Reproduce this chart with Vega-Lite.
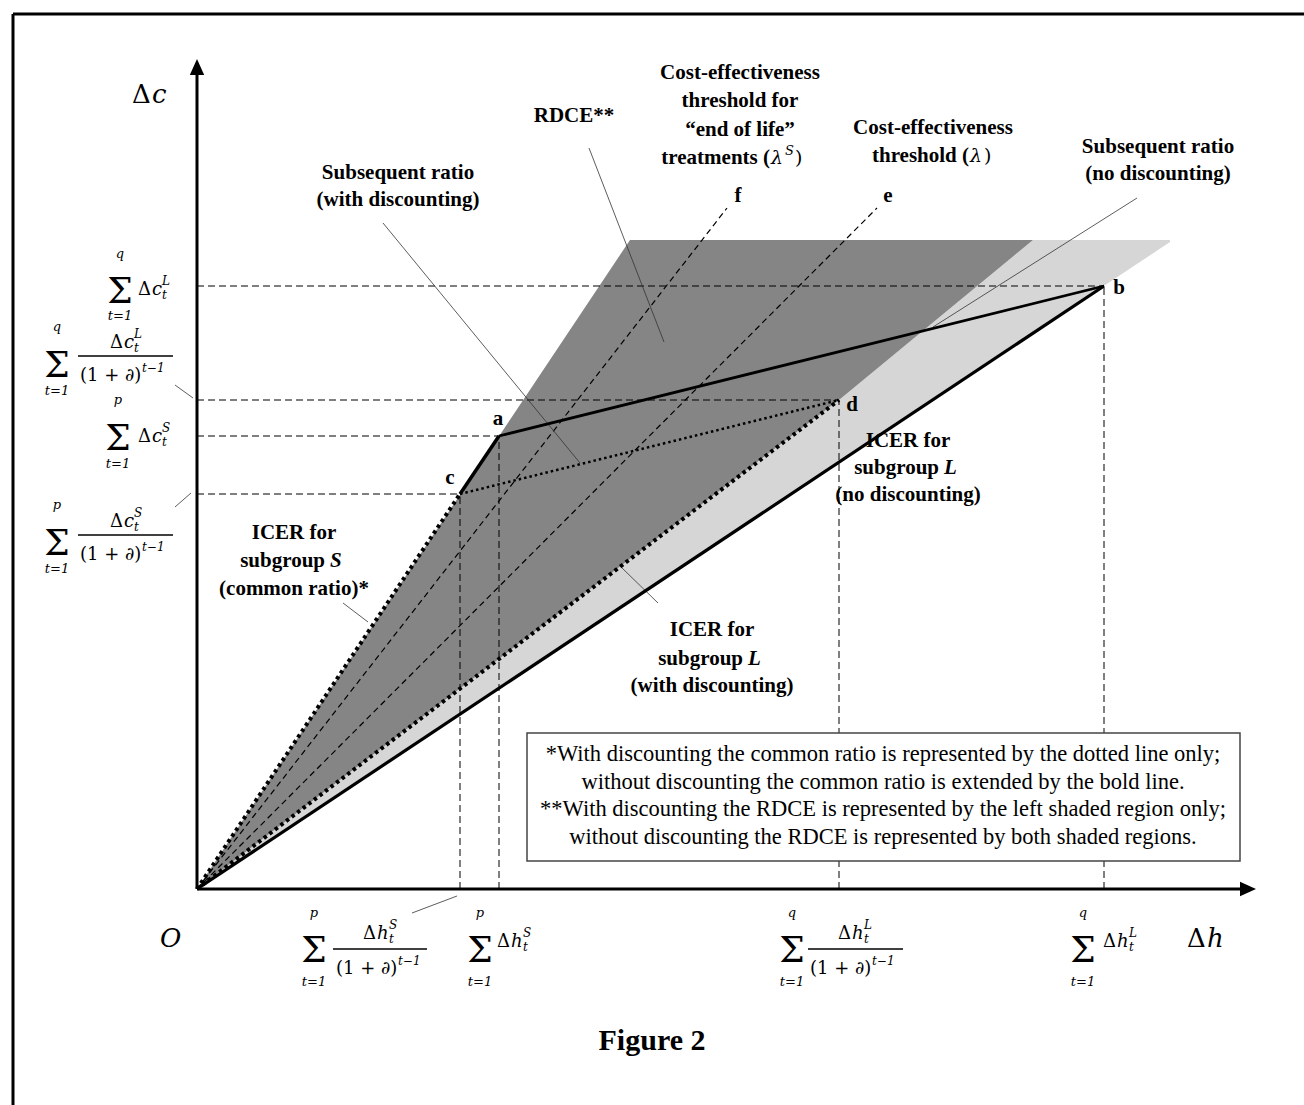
{
"$schema":"https://vega.github.io/schema/vega-lite/v6.json",
"width":1304,"height":1105,"padding":0,"autosize":{"type":"none"},
"background":"white",
"config":{"view":{"stroke":null}},
"datasets":{
"regions":[
{"r":"dark","h":0,"c":0,"c2":0},{"r":"dark","h":433,"c":649,"c2":330},{"r":"dark","h":642,"c":649,"c2":489},{"r":"dark","h":836,"c":649,"c2":649},
{"r":"light","h":0,"c":0,"c2":0},{"r":"light","h":642,"c":489,"c2":427},{"r":"light","h":836,"c":649,"c2":556},{"r":"light","h":973,"c":649,"c2":647}
],
"segs":[
{"k":"guide","h":0,"c":603,"h2":907,"c2":603},
{"k":"guide","h":0,"c":489,"h2":642,"c2":489},
{"k":"guide","h":0,"c":453,"h2":302,"c2":453},
{"k":"guide","h":0,"c":395,"h2":263,"c2":395},
{"k":"guide","h":263,"c":0,"h2":263,"c2":395},
{"k":"guide","h":302,"c":0,"h2":302,"c2":453},
{"k":"guide","h":642,"c":0,"h2":642,"c2":489},
{"k":"guide","h":907,"c":0,"h2":907,"c2":603},
{"k":"thr","h":0,"c":0,"h2":530,"c2":681},
{"k":"thr","h":0,"c":0,"h2":680,"c2":681},
{"k":"ptr","h":186,"c":666,"h2":383,"c2":426},
{"k":"ptr","h":392,"c":741,"h2":467,"c2":547},
{"k":"ptr","h":940,"c":691,"h2":736,"c2":562},
{"k":"ptr","h":423,"c":323,"h2":461,"c2":286},
{"k":"ptr","h":146,"c":286,"h2":171,"c2":267},
{"k":"ptr","h":-22,"c":504,"h2":-4,"c2":491},
{"k":"ptr","h":-22,"c":382,"h2":-6,"c2":396},
{"k":"ptr","h":215,"c":-24,"h2":260,"c2":-7},
{"k":"axis","h":0,"c":0,"h2":0,"c2":816},
{"k":"axis","h":0,"c":0,"h2":1052,"c2":0},
{"k":"frame","h":-184,"c":-216,"h2":-184,"c2":875},
{"k":"frame","h":-184,"c":875,"h2":1107,"c2":875},
{"k":"boldL","h":0,"c":0,"h2":907,"c2":603},
{"k":"boldCA","h":263,"c":395,"h2":302,"c2":453},
{"k":"boldAB","h":302,"c":453,"h2":907,"c2":603},
{"k":"dots","h":0,"c":0,"h2":642,"c2":489},
{"k":"dots","h":0,"c":0,"h2":263,"c2":395},
{"k":"dotsThin","h":263,"c":395,"h2":642,"c2":489},
{"k":"bar","h":-119,"c":533,"h2":-24,"c2":533},
{"k":"bar","h":-119,"c":354,"h2":-24,"c2":354},
{"k":"bar","h":136,"c":-60,"h2":230,"c2":-60},
{"k":"bar","h":611,"c":-60,"h2":706,"c2":-60}
],
"box":[{"h":330,"c":156,"h2":1043,"c2":28}],
"heads":[{"a":"up","h":0,"c":822},{"a":"right","h":1051,"c":0}],
"txt":[
{"s":"lab","h":201,"c":710,"t":"Subsequent ratio"},
{"s":"lab","h":201,"c":683,"t":"(with discounting)"},
{"s":"lab","h":377,"c":767,"t":"RDCE**"},
{"s":"lab","h":543,"c":810,"t":"Cost-effectiveness"},
{"s":"lab","h":543,"c":782,"t":"threshold for"},
{"s":"lab","h":543,"c":753,"t":"“end of life”"},
{"s":"lab","h":541,"c":687,"t":"f"},
{"s":"lab","h":691,"c":687,"t":"e"},
{"s":"lab","h":736,"c":755,"t":"Cost-effectiveness"},
{"s":"lab","h":961,"c":736,"t":"Subsequent ratio"},
{"s":"lab","h":961,"c":709,"t":"(no discounting)"},
{"s":"lab","h":301,"c":464,"t":"a"},
{"s":"lab","h":253,"c":405,"t":"c"},
{"s":"lab","h":922,"c":595,"t":"b"},
{"s":"lab","h":655,"c":478,"t":"d"},
{"s":"lab","h":97,"c":350,"t":"ICER for"},
{"s":"lab","h":97,"c":294,"t":"(common ratio)*"},
{"s":"lab","h":711,"c":442,"t":"ICER for"},
{"s":"lab","h":711,"c":388,"t":"(no discounting)"},
{"s":"lab","h":515,"c":253,"t":"ICER for"},
{"s":"lab","h":515,"c":197,"t":"(with discounting)"},
{"s":"labR","h":573,"c":725,"t":"treatments ("},
{"s":"labR","h":772,"c":727,"t":"threshold ("},
{"s":"labR","h":128,"c":322,"t":"subgroup"},
{"s":"labR","h":742,"c":415,"t":"subgroup"},
{"s":"labR","h":546,"c":224,"t":"subgroup"},
{"s":"labI","h":133,"c":322,"t":"S"},
{"s":"labI","h":747,"c":415,"t":"L"},
{"s":"labI","h":551,"c":224,"t":"L"},
{"s":"lamb","h":574,"c":725,"t":"λ"},
{"s":"lamb","h":773,"c":727,"t":"λ"},
{"s":"lambSup","h":588,"c":734,"t":"S"},
{"s":"paren","h":598,"c":725,"t":")"},
{"s":"paren","h":787,"c":727,"t":")"},
{"s":"note","h":686,"c":128,"t":"*With discounting the common ratio is represented by the dotted line only;"},
{"s":"note","h":686,"c":100,"t":"without discounting the common ratio is extended by the bold line."},
{"s":"note","h":686,"c":73,"t":"**With discounting the RDCE is represented by the left shaded region only;"},
{"s":"note","h":686,"c":45,"t":"without discounting the RDCE is represented by both shaded regions."},
{"s":"title","h":455,"c":-161,"t":"Figure 2"},
{"s":"sum","h":-77,"c":586,"t":"Σ"},
{"s":"sum","h":-140,"c":512,"t":"Σ"},
{"s":"sum","h":-79,"c":439,"t":"Σ"},
{"s":"sum","h":-140,"c":334,"t":"Σ"},
{"s":"sum","h":117,"c":-73,"t":"Σ"},
{"s":"sum","h":283,"c":-73,"t":"Σ"},
{"s":"sum","h":595,"c":-73,"t":"Σ"},
{"s":"sum","h":886,"c":-73,"t":"Σ"},
{"s":"lim","h":-77,"c":631,"t":"q"},
{"s":"lim","h":-77,"c":569,"t":"t=1"},
{"s":"lim","h":-140,"c":558,"t":"q"},
{"s":"lim","h":-140,"c":494,"t":"t=1"},
{"s":"lim","h":-79,"c":485,"t":"p"},
{"s":"lim","h":-79,"c":421,"t":"t=1"},
{"s":"lim","h":-140,"c":380,"t":"p"},
{"s":"lim","h":-140,"c":316,"t":"t=1"},
{"s":"lim","h":117,"c":-28,"t":"p"},
{"s":"lim","h":117,"c":-97,"t":"t=1"},
{"s":"lim","h":283,"c":-28,"t":"p"},
{"s":"lim","h":283,"c":-97,"t":"t=1"},
{"s":"lim","h":595,"c":-28,"t":"q"},
{"s":"lim","h":595,"c":-97,"t":"t=1"},
{"s":"lim","h":886,"c":-28,"t":"q"},
{"s":"lim","h":886,"c":-97,"t":"t=1"},
{"s":"D","h":-59,"c":594,"t":"Δ"},
{"s":"D","h":-87,"c":541,"t":"Δ"},
{"s":"D","h":-59,"c":447,"t":"Δ"},
{"s":"D","h":-87,"c":362,"t":"Δ"},
{"s":"D","h":166,"c":-50,"t":"Δ"},
{"s":"D","h":300,"c":-58,"t":"Δ"},
{"s":"D","h":641,"c":-50,"t":"Δ"},
{"s":"D","h":906,"c":-58,"t":"Δ"},
{"s":"v","h":-45,"c":594,"t":"c"},
{"s":"v","h":-73,"c":541,"t":"c"},
{"s":"v","h":-45,"c":447,"t":"c"},
{"s":"v","h":-73,"c":362,"t":"c"},
{"s":"v","h":180,"c":-50,"t":"h"},
{"s":"v","h":314,"c":-58,"t":"h"},
{"s":"v","h":655,"c":-50,"t":"h"},
{"s":"v","h":920,"c":-58,"t":"h"},
{"s":"ss","h":-35,"c":604,"t":"L"},
{"s":"ss","h":-35,"c":590,"t":"t"},
{"s":"ss","h":-63,"c":551,"t":"L"},
{"s":"ss","h":-63,"c":537,"t":"t"},
{"s":"ss","h":-35,"c":457,"t":"S"},
{"s":"ss","h":-35,"c":443,"t":"t"},
{"s":"ss","h":-63,"c":372,"t":"S"},
{"s":"ss","h":-63,"c":358,"t":"t"},
{"s":"ss","h":192,"c":-40,"t":"S"},
{"s":"ss","h":192,"c":-54,"t":"t"},
{"s":"ss","h":326,"c":-48,"t":"S"},
{"s":"ss","h":326,"c":-62,"t":"t"},
{"s":"ss","h":667,"c":-40,"t":"L"},
{"s":"ss","h":667,"c":-54,"t":"t"},
{"s":"ss","h":932,"c":-48,"t":"L"},
{"s":"ss","h":932,"c":-62,"t":"t"},
{"s":"ss","h":-55,"c":517,"t":"t−1"},
{"s":"ss","h":-55,"c":338,"t":"t−1"},
{"s":"ss","h":201,"c":-76,"t":"t−1"},
{"s":"ss","h":675,"c":-76,"t":"t−1"},
{"s":"den","h":-117,"c":508,"t":"(1 + ∂)"},
{"s":"den","h":-117,"c":329,"t":"(1 + ∂)"},
{"s":"den","h":139,"c":-85,"t":"(1 + ∂)"},
{"s":"den","h":613,"c":-85,"t":"(1 + ∂)"},
{"s":"bigD","h":-65,"c":786,"t":"Δ"},
{"s":"bigD","h":990,"c":-58,"t":"Δ"},
{"s":"bigV","h":-45,"c":786,"t":"c"},
{"s":"bigV","h":1010,"c":-58,"t":"h"},
{"s":"bigV","h":-37,"c":-58,"t":"O"}
]
},
"encoding":{
"x":{"field":"h","type":"quantitative","scale":{"domain":[-197,1107],"nice":false,"zero":false},"axis":null},
"y":{"field":"c","type":"quantitative","scale":{"domain":[-216,889],"nice":false,"zero":false},"axis":null}
},
"layer":[
{"data":{"name":"regions"},"transform":[{"filter":"datum.r=='light'"}],"mark":{"type":"area","fill":"#d6d6d6","stroke":null},"encoding":{"y2":{"field":"c2"}}},
{"data":{"name":"regions"},"transform":[{"filter":"datum.r=='dark'"}],"mark":{"type":"area","fill":"#858585","stroke":null},"encoding":{"y2":{"field":"c2"}}},
{"data":{"name":"segs"},"transform":[{"filter":"datum.k=='thr'"}],"mark":{"type":"rule","color":"black","strokeWidth":1.2,"strokeDash":[6,4]},"encoding":{"x2":{"field":"h2"},"y2":{"field":"c2"}}},
{"data":{"name":"segs"},"transform":[{"filter":"datum.k=='guide'"}],"mark":{"type":"rule","color":"black","strokeWidth":1,"strokeDash":[7,4]},"encoding":{"x2":{"field":"h2"},"y2":{"field":"c2"}}},
{"data":{"name":"segs"},"transform":[{"filter":"datum.k=='ptr'"}],"mark":{"type":"rule","color":"#333333","strokeWidth":0.8},"encoding":{"x2":{"field":"h2"},"y2":{"field":"c2"}}},
{"data":{"name":"box"},"mark":{"type":"rect","fill":"white","stroke":"#444444","strokeWidth":1.5},"encoding":{"x2":{"field":"h2"},"y2":{"field":"c2"}}},
{"data":{"name":"segs"},"transform":[{"filter":"datum.k=='boldL'"}],"mark":{"type":"rule","color":"black","strokeWidth":3.2},"encoding":{"x2":{"field":"h2"},"y2":{"field":"c2"}}},
{"data":{"name":"segs"},"transform":[{"filter":"datum.k=='boldCA'"}],"mark":{"type":"rule","color":"black","strokeWidth":3.5},"encoding":{"x2":{"field":"h2"},"y2":{"field":"c2"}}},
{"data":{"name":"segs"},"transform":[{"filter":"datum.k=='boldAB'"}],"mark":{"type":"rule","color":"black","strokeWidth":2.8},"encoding":{"x2":{"field":"h2"},"y2":{"field":"c2"}}},
{"data":{"name":"segs"},"transform":[{"filter":"datum.k=='dots'"}],"mark":{"type":"rule","color":"black","strokeWidth":4,"strokeDash":[3.5,3.5]},"encoding":{"x2":{"field":"h2"},"y2":{"field":"c2"}}},
{"data":{"name":"segs"},"transform":[{"filter":"datum.k=='dotsThin'"}],"mark":{"type":"rule","color":"black","strokeWidth":2.5,"strokeDash":[2.5,3]},"encoding":{"x2":{"field":"h2"},"y2":{"field":"c2"}}},
{"data":{"name":"segs"},"transform":[{"filter":"datum.k=='axis'"}],"mark":{"type":"rule","color":"black","strokeWidth":3},"encoding":{"x2":{"field":"h2"},"y2":{"field":"c2"}}},
{"data":{"name":"segs"},"transform":[{"filter":"datum.k=='frame'"}],"mark":{"type":"rule","color":"black","strokeWidth":3},"encoding":{"x2":{"field":"h2"},"y2":{"field":"c2"}}},
{"data":{"name":"segs"},"transform":[{"filter":"datum.k=='bar'"}],"mark":{"type":"rule","color":"black","strokeWidth":1.3},"encoding":{"x2":{"field":"h2"},"y2":{"field":"c2"}}},
{"data":{"name":"heads"},"transform":[{"filter":"datum.a=='up'"}],"mark":{"type":"point","shape":"M0,-1L0.9,1L-0.9,1Z","size":256,"filled":true,"color":"black","opacity":1}},
{"data":{"name":"heads"},"transform":[{"filter":"datum.a=='right'"}],"mark":{"type":"point","shape":"M1,0L-1,-0.9L-1,0.9Z","size":256,"filled":true,"color":"black","opacity":1}},
{"data":{"name":"txt"},"transform":[{"filter":"datum.s=='lab'"}],"mark":{"type":"text","font":"Liberation Serif","fontSize":21,"fontWeight":"bold","align":"center","baseline":"alphabetic","color":"black"},"encoding":{"text":{"field":"t"}}},
{"data":{"name":"txt"},"transform":[{"filter":"datum.s=='labR'"}],"mark":{"type":"text","font":"Liberation Serif","fontSize":21,"fontWeight":"bold","align":"right","baseline":"alphabetic","color":"black"},"encoding":{"text":{"field":"t"}}},
{"data":{"name":"txt"},"transform":[{"filter":"datum.s=='labI'"}],"mark":{"type":"text","font":"Liberation Serif","fontSize":21,"fontWeight":"bold","fontStyle":"italic","align":"left","baseline":"alphabetic","color":"black"},"encoding":{"text":{"field":"t"}}},
{"data":{"name":"txt"},"transform":[{"filter":"datum.s=='lamb'"}],"mark":{"type":"text","font":"DejaVu Serif","fontSize":19,"fontStyle":"italic","align":"left","baseline":"alphabetic","color":"black"},"encoding":{"text":{"field":"t"}}},
{"data":{"name":"txt"},"transform":[{"filter":"datum.s=='lambSup'"}],"mark":{"type":"text","font":"DejaVu Serif","fontSize":13,"fontStyle":"italic","align":"left","baseline":"alphabetic","color":"black"},"encoding":{"text":{"field":"t"}}},
{"data":{"name":"txt"},"transform":[{"filter":"datum.s=='paren'"}],"mark":{"type":"text","font":"DejaVu Serif","fontSize":19,"align":"left","baseline":"alphabetic","color":"black"},"encoding":{"text":{"field":"t"}}},
{"data":{"name":"txt"},"transform":[{"filter":"datum.s=='note'"}],"mark":{"type":"text","font":"Liberation Serif","fontSize":22.5,"align":"center","baseline":"alphabetic","color":"black"},"encoding":{"text":{"field":"t"}}},
{"data":{"name":"txt"},"transform":[{"filter":"datum.s=='title'"}],"mark":{"type":"text","font":"Liberation Serif","fontSize":30,"fontWeight":"bold","align":"center","baseline":"alphabetic","color":"black"},"encoding":{"text":{"field":"t"}}},
{"data":{"name":"txt"},"transform":[{"filter":"datum.s=='sum'"}],"mark":{"type":"text","font":"DejaVu Serif","fontSize":36,"align":"center","baseline":"alphabetic","color":"black"},"encoding":{"text":{"field":"t"}}},
{"data":{"name":"txt"},"transform":[{"filter":"datum.s=='lim'"}],"mark":{"type":"text","font":"DejaVu Serif","fontSize":13,"fontStyle":"italic","align":"center","baseline":"alphabetic","color":"black"},"encoding":{"text":{"field":"t"}}},
{"data":{"name":"txt"},"transform":[{"filter":"datum.s=='D'"}],"mark":{"type":"text","font":"DejaVu Serif","fontSize":18,"align":"left","baseline":"alphabetic","color":"black"},"encoding":{"text":{"field":"t"}}},
{"data":{"name":"txt"},"transform":[{"filter":"datum.s=='v'"}],"mark":{"type":"text","font":"DejaVu Serif","fontSize":18,"fontStyle":"italic","align":"left","baseline":"alphabetic","color":"black"},"encoding":{"text":{"field":"t"}}},
{"data":{"name":"txt"},"transform":[{"filter":"datum.s=='ss'"}],"mark":{"type":"text","font":"DejaVu Serif","fontSize":12,"fontStyle":"italic","align":"left","baseline":"alphabetic","color":"black"},"encoding":{"text":{"field":"t"}}},
{"data":{"name":"txt"},"transform":[{"filter":"datum.s=='den'"}],"mark":{"type":"text","font":"DejaVu Serif","fontSize":18,"align":"left","baseline":"alphabetic","color":"black"},"encoding":{"text":{"field":"t"}}},
{"data":{"name":"txt"},"transform":[{"filter":"datum.s=='bigD'"}],"mark":{"type":"text","font":"DejaVu Serif","fontSize":26,"align":"left","baseline":"alphabetic","color":"black"},"encoding":{"text":{"field":"t"}}},
{"data":{"name":"txt"},"transform":[{"filter":"datum.s=='bigV'"}],"mark":{"type":"text","font":"DejaVu Serif","fontSize":26,"fontStyle":"italic","align":"left","baseline":"alphabetic","color":"black"},"encoding":{"text":{"field":"t"}}}
]
}
